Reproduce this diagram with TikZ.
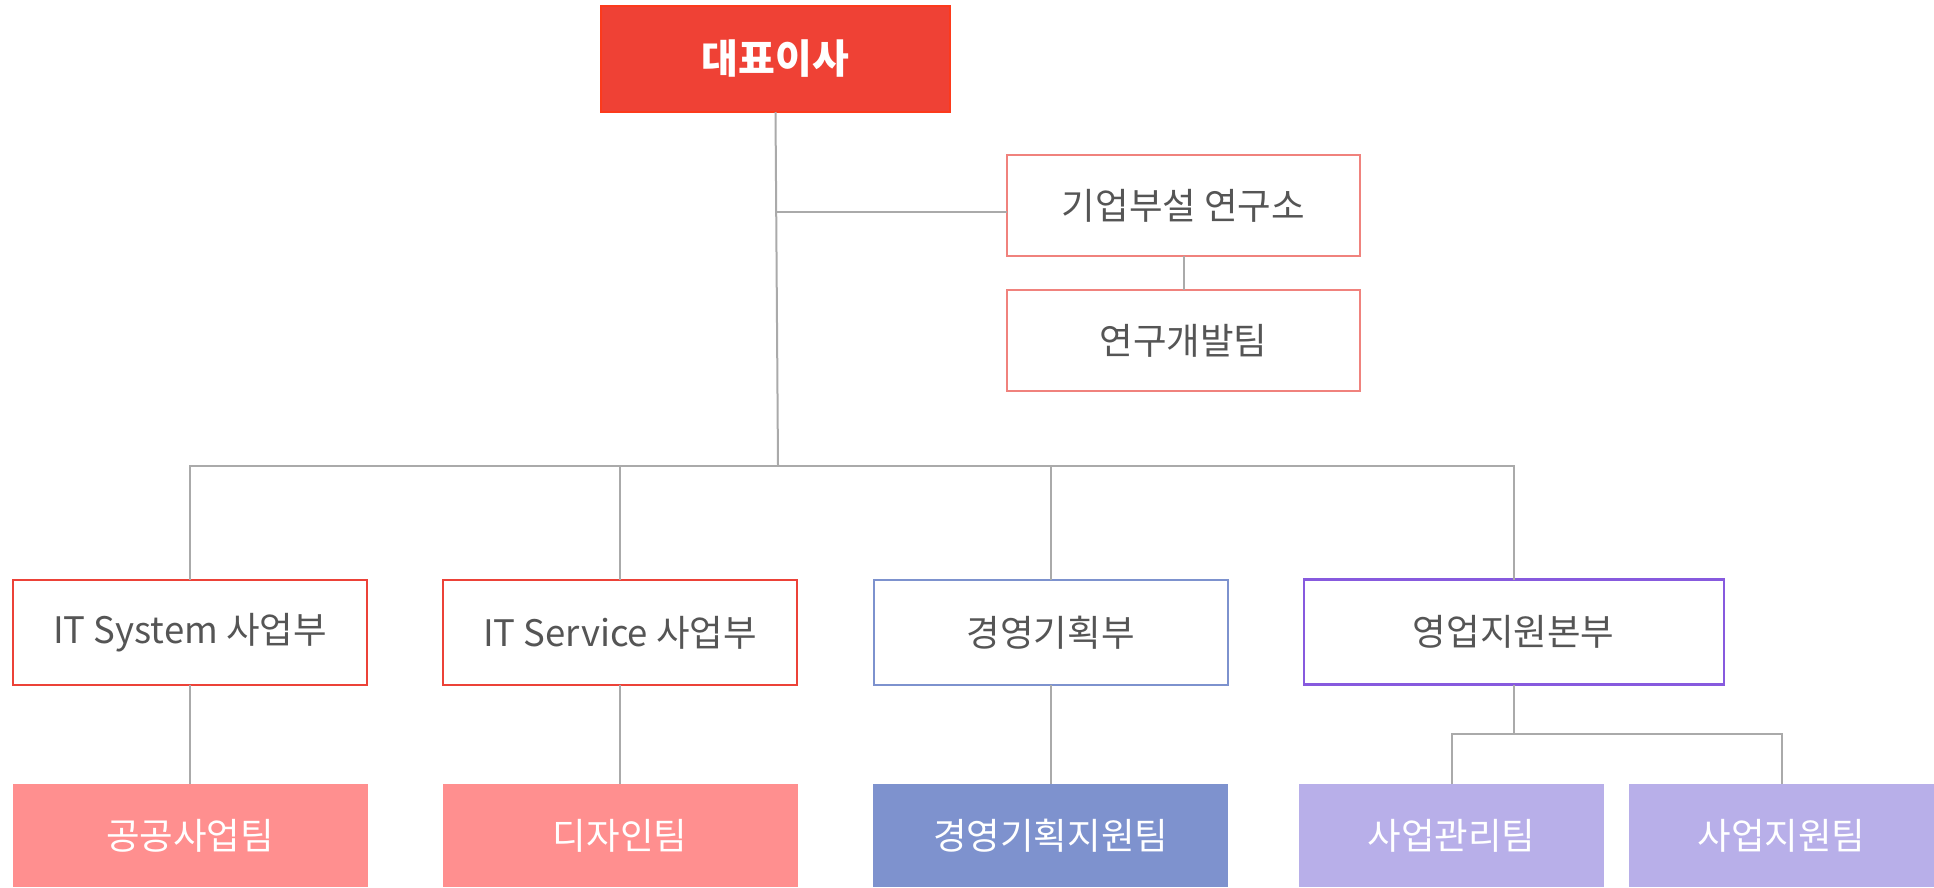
\documentclass[tikz,border=0pt]{standalone}
\usepackage{fontspec}
\setmainfont{Noto Sans CJK KR}
\begin{document}
\begin{tikzpicture}[x=1pt,y=-1pt,
  every node/.style={inner sep=0pt,outer sep=0pt,font=\fontsize{36.5}{42}\selectfont,text=txt},
  conn/.style={draw=linegray,line width=2pt},
  ceobox/.style={draw=ceoborder,fill=ceofill,line width=2.2pt,text=white,font=\fontsize{40}{46}\selectfont\bfseries,minimum width=349pt,minimum height=106pt},
  labbox/.style={draw=labborder,fill=white,line width=2.2pt,minimum width=353pt,minimum height=101pt},
  deptbox/.style={draw=#1,fill=white,line width=2.2pt,minimum width=354pt,minimum height=105pt},
  teambox/.style={fill=#1,text=white,minimum height=103pt}
]
\definecolor{ceofill}{RGB}{239,65,53}
\definecolor{ceoborder}{RGB}{252,58,28}
\definecolor{labborder}{RGB}{240,130,125}
\definecolor{redborder}{RGB}{236,66,56}
\definecolor{blueborder}{RGB}{125,146,206}
\definecolor{purpleborder}{RGB}{135,90,222}
\definecolor{pinkfill}{RGB}{255,143,143}
\definecolor{bluefill}{RGB}{126,146,206}
\definecolor{lavfill}{RGB}{184,175,233}
\definecolor{linegray}{RGB}{170,170,170}
\definecolor{txt}{RGB}{85,85,85}

\useasboundingbox (0,0) rectangle (1934,887);

% nodes
\node[ceobox] (ceo) at (775.5,59) {대표이사};
\node[labbox] (lab) at (1183.5,205.5) {기업부설 연구소};
\node[labbox] (rnd) at (1183.5,340.5) {연구개발팀};

\node[deptbox=redborder] (d1) at (190,632.5) {IT System 사업부};
\node[deptbox=redborder] (d2) at (620,632.5) {IT Service 사업부};
\node[deptbox=blueborder] (d3) at (1050.7,632.5) {경영기획부};
\node[deptbox=purpleborder,minimum width=420pt] (d4) at (1513.6,632) {영업지원본부};

\node[teambox=pinkfill,minimum width=355pt] (t1) at (190,835.5) {공공사업팀};
\node[teambox=pinkfill,minimum width=355pt] (t2) at (620,835.5) {디자인팀};
\node[teambox=bluefill,minimum width=355pt] (t3) at (1050.7,835.5) {경영기획지원팀};
\node[teambox=lavfill,minimum width=305pt] (t4) at (1451.5,835.5) {사업관리팀};
\node[teambox=lavfill,minimum width=305pt] (t5) at (1781.5,835.5) {사업지원팀};

% junction coordinates
\coordinate (hub) at (778,466);
\coordinate (labj) at (776.3,212);
\coordinate (sub) at (1513.6,734);

% connectors
\draw[conn] (ceo.south) -- (hub);
\draw[conn] (labj) -- (labj -| lab.west);
\draw[conn] (lab.south) -- (rnd.north);
\draw[conn] (d1.north) |- (hub) -| (d4.north);
\draw[conn] (d2.north) -- (d2.north |- hub);
\draw[conn] (d3.north) -- (d3.north |- hub);
\draw[conn] (d1.south) -- (t1.north);
\draw[conn] (d2.south) -- (t2.north);
\draw[conn] (d3.south) -- (t3.north);
\draw[conn] (d4.south) -- (sub);
\draw[conn] (t4.north) |- (sub) -| (t5.north);
\end{tikzpicture}
\end{document}
